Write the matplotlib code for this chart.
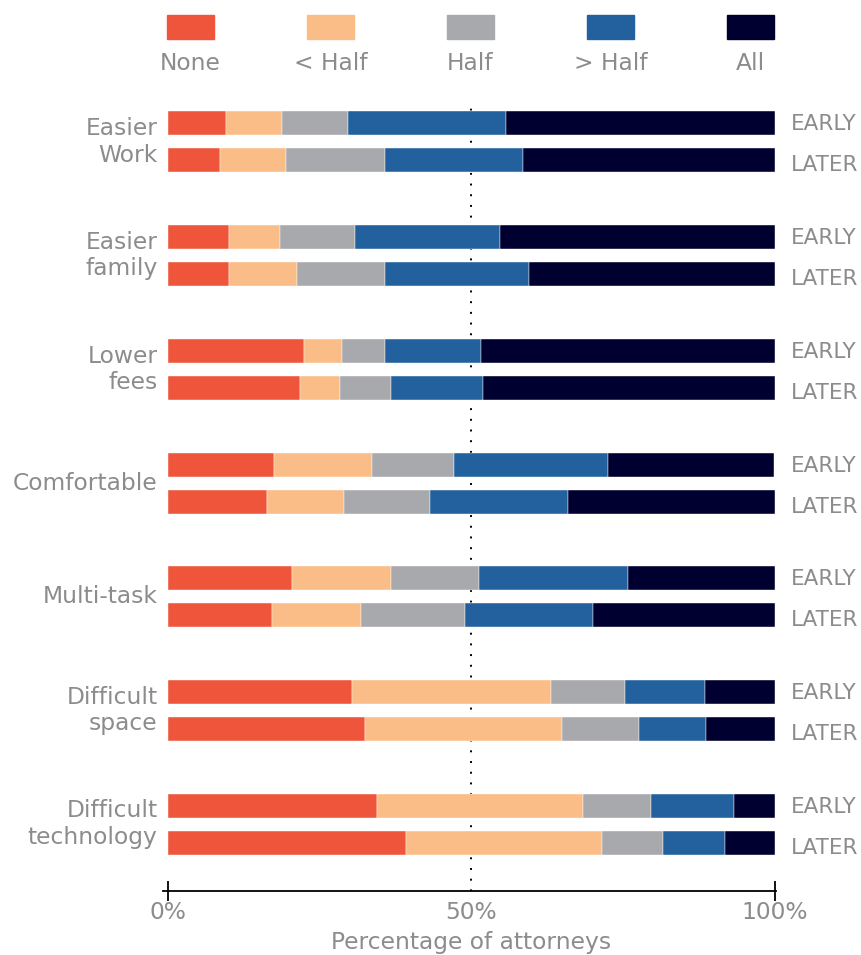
import numpy as np
import matplotlib
matplotlib.use("Agg")
import matplotlib.pyplot as plt
from matplotlib.patches import Rectangle

plt.rcParams['font.family'] = ['DejaVu Sans']

categories = ["Easier\nWork", "Easier\nfamily", "Lower\nfees", "Comfortable",
              "Multi-task", "Difficult\nspace", "Difficult\ntechnology"]
levels = ["None", "< Half", "Half", "> Half", "All"]

# share of attorneys (%) per level
early_none    = [9.5, 10.0, 22.4, 17.5, 20.4, 30.3, 34.4]
early_lt_half = [9.3, 8.4, 6.3, 16.1, 16.3, 32.8, 34.1]
early_half    = [10.8, 12.5, 7.0, 13.6, 14.5, 12.3, 11.1]
early_gt_half = [26.1, 23.9, 15.9, 25.4, 24.6, 13.1, 13.8]
early_all     = [44.3, 45.2, 48.4, 27.4, 24.2, 11.5, 6.6]

later_none    = [8.6, 10.1, 21.8, 16.3, 17.2, 32.4, 39.2]
later_lt_half = [10.9, 11.2, 6.6, 12.7, 14.6, 32.5, 32.3]
later_half    = [16.2, 14.4, 8.4, 14.2, 17.1, 12.7, 10.1]
later_gt_half = [22.9, 23.8, 15.1, 22.7, 21.2, 11.1, 10.3]
later_all     = [41.4, 40.5, 48.1, 34.1, 29.9, 11.3, 8.1]

colors = ["#EE553A", "#FBBD87", "#A8A9AD", "#22609E", "#000030"]
grey = "#8c8c8c"

W, H = 861, 955
fig = plt.figure(figsize=(W / 100, H / 100), dpi=100)

# axes placed in pixel terms: x 168..774.5, y 100..891 (from top)
ax = fig.add_axes([168 / W, (H - 891) / H, 606.5 / W, 791 / H])
ax.set_xlim(0, 100)
ax.set_ylim(891, 100)

early = np.array([early_none, early_lt_half, early_half, early_gt_half, early_all])
later = np.array([later_none, later_lt_half, later_half, later_gt_half, later_all])

n = len(categories)
y_early = 123.5 + 113.7 * np.arange(n)
y_later = y_early + 37
bar_h = 24

for data, ys in [(early, y_early), (later, y_later)]:
    left = np.zeros(n)
    for k in range(len(levels)):
        ax.barh(ys, data[k], left=left, height=bar_h, color=colors[k],
                edgecolor="white", linewidth=0.3, zorder=2)
        left += data[k]

# 50% reference line behind the bars
ax.plot([50, 50], [98, 891], color="black", lw=1.4, dashes=(1, 4.5), zorder=1)

# period labels on the right, category labels on the left
tr = ax.get_yaxis_transform()
for i in range(n):
    ax.text(1.027, y_early[i] + 1, "EARLY", transform=tr, ha="left", va="center",
            fontsize=15.5, color=grey)
    ax.text(1.027, y_later[i] + 5, "LATER", transform=tr, ha="left", va="center",
            fontsize=15.5, color=grey)
    ax.text(-0.017, (y_early[i] + y_later[i]) / 2, categories[i], transform=tr,
            ha="right", va="center", fontsize=16.8, color=grey, linespacing=1.2)

# axis styling
for s in ["top", "right", "left"]:
    ax.spines[s].set_visible(False)
ax.spines["bottom"].set_bounds(-0.8, 100.2)
ax.spines["bottom"].set_linewidth(1.3)
ax.set_yticks([])
ax.set_xticks([0, 50, 100])
ax.set_xticklabels(["0%", "50%", "100%"])
ax.tick_params(axis="x", direction="inout", length=14, width=1.3,
               labelsize=16.8, labelcolor=grey, pad=0)
ax.xaxis.get_major_ticks()[1].tick1line.set_visible(False)
ax.set_xlabel("Percentage of attorneys", fontsize=16.8, color=grey, labelpad=5)

# legend at the top
for k, lab in enumerate(levels):
    x0 = 167 + 140 * k
    fig.add_artist(Rectangle((x0 / W, (H - 39.5) / H), 47 / W, 24 / H,
                             transform=fig.transFigure, color=colors[k]))
    fig.text((x0 + 23.5) / W, (H - 63.5) / H, lab, ha="center", va="center",
             fontsize=16.8, color=grey)

fig.savefig("out.png", dpi=100)
